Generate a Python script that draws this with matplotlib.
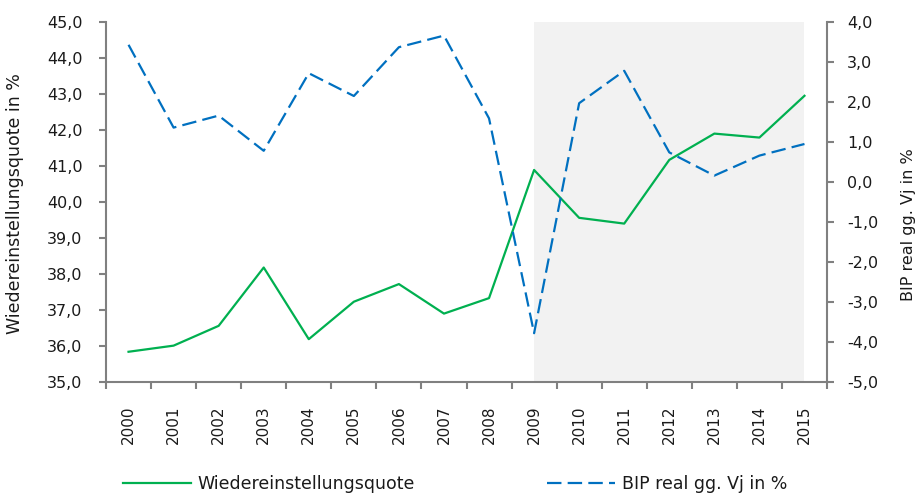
import matplotlib
matplotlib.use("Agg")
import matplotlib.pyplot as plt
from matplotlib.lines import Line2D
from matplotlib.ticker import FixedLocator, FuncFormatter

years = ["2000", "2001", "2002", "2003", "2004", "2005", "2006", "2007",
         "2008", "2009", "2010", "2011", "2012", "2013", "2014", "2015"]
wiedereinstellung = [35.84, 36.01, 36.56, 38.18, 36.19, 37.23, 37.72, 36.90,
                     37.33, 40.89, 39.56, 39.40, 41.17, 41.90, 41.79, 42.95]
bip = [3.43, 1.36, 1.66, 0.78, 2.72, 2.15, 3.37, 3.66,
       1.59, -3.78, 1.97, 2.78, 0.74, 0.16, 0.66, 0.95]
shade_start, shade_end = "2009", "2015"

plt.rcParams['font.family'] = ['DejaVu Sans']
fs = 11
yfs = 11.5
grey = "#808080"
green = "#00B050"
blue = "#0070C0"
txt = "#1a1a1a"

fig = plt.figure(figsize=(9.19, 4.97), dpi=100)
ax1 = fig.add_axes([106/919, 1-382/497, (827-106)/919, (382-22)/497])
ax2 = ax1.twinx()

x = list(range(len(years)))
ax1.axvspan(years.index(shade_start), years.index(shade_end), color="#F2F2F2", zorder=0, lw=0)
ax1.plot(x, wiedereinstellung, color=green, lw=1.6, zorder=3)
ax2.plot(x, bip, color=blue, lw=1.6, linestyle=(0, (6.5, 2.8)), zorder=3)

ax1.set_xlim(-0.5, len(years) - 0.5)
ax1.set_ylim(35, 45)
ax2.set_ylim(-5, 4)
ax1.set_yticks([35 + i for i in range(11)])
ax2.set_yticks([-5 + i for i in range(10)])
fmt = FuncFormatter(lambda v, p: f"{v:.1f}".replace(".", ","))
ax1.yaxis.set_major_formatter(fmt)
ax2.yaxis.set_major_formatter(fmt)

ax1.set_xticks(x)
ax1.set_xticklabels(years, rotation=90, fontsize=fs, color=txt)
ax1.xaxis.set_minor_locator(FixedLocator([i - 0.5 for i in range(len(years) + 1)]))
ax1.tick_params(axis="x", which="major", length=0, pad=17)
ax1.tick_params(axis="x", which="minor", length=5, color=grey, width=1.5)
ax1.tick_params(axis="y", length=5, color=grey, width=1.5, labelsize=yfs, pad=12, labelcolor=txt)
ax2.tick_params(axis="y", length=5, color=grey, width=1.5, labelsize=yfs, pad=9.5, labelcolor=txt)

for ax in (ax1, ax2):
    ax.spines["top"].set_visible(False)
    for s in ax.spines.values():
        s.set_color(grey)
        s.set_linewidth(1.5)
ax1.spines["right"].set_visible(False)
ax2.spines["left"].set_visible(False)
ax2.spines["bottom"].set_visible(False)

fig.text(15/919, 1-204/497, "Wiedereinstellungsquote in %", rotation=90,
         ha="center", va="center", fontsize=12.5, color=txt)
fig.text(909/919, 1-225/497, "BIP real gg. Vj in %", rotation=90,
         ha="center", va="center", fontsize=11.5, color=txt)

lfs = 12.5
handles = [Line2D([], [], color=green, lw=1.6),
           Line2D([], [], color=blue, lw=1.6, linestyle=(0, (6.5, 2.8)))]
fig.legend(handles, ["Wiedereinstellungsquote", "BIP real gg. Vj in %"],
           loc="lower left", bbox_to_anchor=(123/919, 0.008), ncol=2, frameon=False,
           borderpad=0, borderaxespad=0, labelcolor=txt,
           fontsize=lfs, handlelength=3.9, handletextpad=0.4, columnspacing=7.6)

fig.savefig("out.png", dpi=100)
